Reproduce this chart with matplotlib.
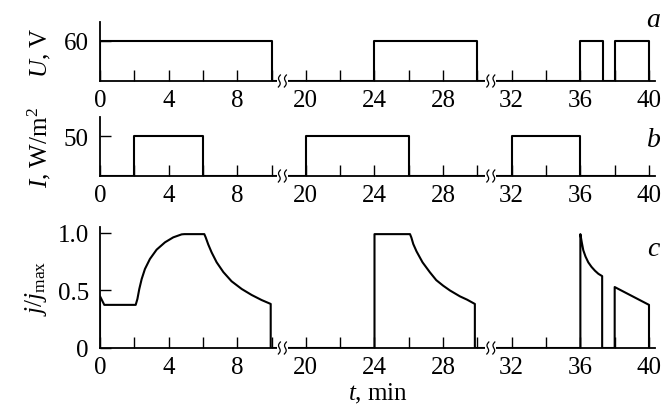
import numpy as np
import matplotlib
matplotlib.use("Agg")
import matplotlib.pyplot as plt
import matplotlib.transforms as mtransforms
from matplotlib.patches import Rectangle

plt.rcParams['font.family'] = 'Liberation Serif'
plt.rcParams['mathtext.fontset'] = 'custom'
plt.rcParams['mathtext.rm'] = 'Liberation Serif'
plt.rcParams['mathtext.it'] = 'Liberation Serif:italic'
plt.rcParams['font.size'] = 18

# data (time in min)
u_t = [0, 0, 10, 10, 24, 24, 30, 30, 36, 36, 37.3, 37.3, 38, 38, 40, 40]
u_val = [0, 60, 60, 0, 0, 60, 60, 0, 0, 60, 60, 0, 0, 60, 60, 0]

i_t = [0, 2, 2, 6, 6, 20, 20, 26, 26, 32, 32, 36, 36, 40]
i_val = [0, 0, 50, 50, 0, 0, 50, 50, 0, 0, 50, 50, 0, 0]

j_t = [0, 0, 0.25, 2.08, 2.18, 2.29, 2.43, 2.62, 2.91, 3.30, 3.79, 4.27, 4.76, 4.92,
       6.08, 6.16, 6.31, 6.51, 6.80, 7.19, 7.67, 8.26, 8.84, 9.42, 9.95, 9.95,
       24, 24, 26.07, 26.15, 26.26, 26.45, 26.8, 27.23, 27.6, 28.0, 28.4, 28.98,
       29.4, 29.85, 29.85,
       36, 36, 36.08, 36.17, 36.3, 36.46, 36.65, 36.85, 37.05, 37.27, 37.27,
       38, 38, 40, 40]
j_val = [0, 0.45, 0.375, 0.375, 0.426, 0.513, 0.60, 0.687, 0.774, 0.855, 0.919,
         0.962, 0.988, 0.99,
         0.99, 0.962, 0.90, 0.83, 0.745, 0.66, 0.58, 0.513, 0.461, 0.417, 0.383, 0,
         0, 0.99, 0.99, 0.96, 0.904, 0.84, 0.745, 0.658, 0.59, 0.542, 0.50, 0.449,
         0.42, 0.383, 0,
         0, 0.99, 0.92, 0.85, 0.795, 0.745, 0.705, 0.672, 0.645, 0.625, 0,
         0, 0.53, 0.375, 0]

major_t = [0, 4, 8, 20, 24, 28, 32, 36, 40]
minor_t = [2, 6, 10, 22, 26, 30, 34, 38]


def squeeze(t):
    # skip the idle interval between 10 and 20 min
    t = np.asarray(t, dtype=float)
    return np.where(t <= 10.5, t, t - 8)


W, H = 668, 414
PX = 555 / 32.35  # pixels per display unit


def make_axes(fig, top, bottom):
    return fig.add_axes([100 / W, 1 - bottom / H, 555 / W, (bottom - top) / H])


def draw_break(ax, xd, hpx):
    tr = mtransforms.blended_transform_factory(ax.transData, ax.transAxes)
    ax.add_patch(Rectangle((xd - 5.5 / PX, -2.5 / hpx), 11 / PX, 5 / hpx,
                           transform=tr, facecolor='white', edgecolor='none',
                           zorder=5, clip_on=False))
    s = np.linspace(0, 1, 30)
    for off in (-3, 3):
        xs = xd + (off + 2 * (s - 0.5) + 1.3 * np.sin(2 * np.pi * s)) / PX
        ys = (-6 + 12 * s) / hpx
        ax.plot(xs, ys, color='black', lw=0.9, transform=tr, clip_on=False, zorder=6)


def style(ax, ylim, yticks, ylabels, hpx):
    ax.set_xlim(0, 32.35)
    ax.set_ylim(*ylim)
    for sp in ('top', 'right'):
        ax.spines[sp].set_visible(False)
    for sp in ('left', 'bottom'):
        ax.spines[sp].set_linewidth(1.3)
    ax.set_xticks(squeeze(major_t))
    ax.set_xticklabels([str(v) for v in major_t])
    ax.set_xticks(squeeze(minor_t), minor=True)
    ax.set_yticks(yticks)
    ax.set_yticklabels(ylabels)
    ax.tick_params(which='both', direction='in', length=8, width=1.0, pad=6)
    ax.tick_params(axis='y', pad=8)
    draw_break(ax, 10.63, hpx)
    draw_break(ax, 22.78, hpx)


fig = plt.figure(figsize=(W / 100, H / 100), dpi=100)

ax1 = make_axes(fig, 23, 82)
ax1.plot(squeeze(u_t), u_val, color='black', lw=1.5)
style(ax1, (0, 88.5), [60], ['60'], 59)
ax1.set_ylabel('$U$, V', labelpad=8)
ax1.text(1.01, 1.05, '$a$', transform=ax1.transAxes, ha='right', va='center', fontsize=20)

ax2 = make_axes(fig, 118, 177)
ax2.plot(squeeze(i_t), i_val, color='black', lw=1.5)
style(ax2, (0, 73.75), [50], ['50'], 59)
ax2.set_ylabel('$I$, W/m$^2$', labelpad=8)
ax2.text(1.01, 0.62, '$b$', transform=ax2.transAxes, ha='right', va='center', fontsize=20)

ax3 = make_axes(fig, 228, 349)
ax3.plot(squeeze(j_t), j_val, color='black', lw=1.5)
style(ax3, (0, 1.052), [0, 0.5, 1.0], ['0', '0.5', '1.0'], 121)
ax3.set_ylabel('$j/j_{\\rm max}$', labelpad=6)
ax3.text(1.01, 0.82, '$c$', transform=ax3.transAxes, ha='right', va='center', fontsize=20)
ax3.set_xlabel('$t$, min', labelpad=2)

fig.savefig('out.png', dpi=100)
